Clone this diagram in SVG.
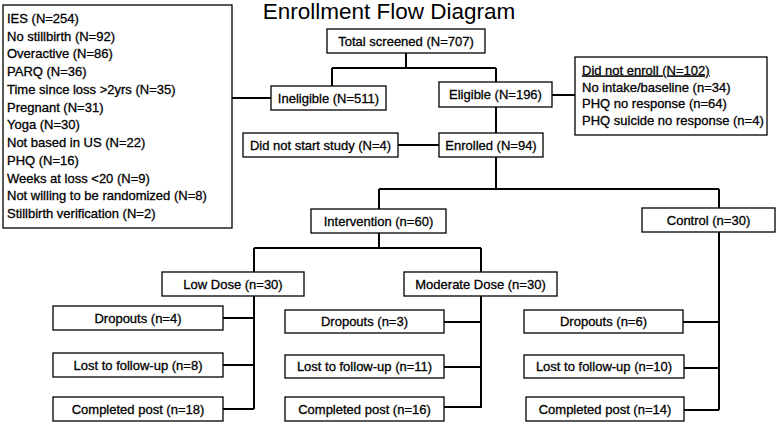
<svg xmlns="http://www.w3.org/2000/svg" width="778" height="422" viewBox="0 0 778 422">
<style>
.b{fill:#fff;stroke:#000;stroke-width:1.3}
.t{font-family:"Liberation Sans",Arial,sans-serif;font-size:13px;fill:#000;stroke:#000;stroke-width:0.3;text-anchor:middle}
.l{font-family:"Liberation Sans",Arial,sans-serif;font-size:13px;fill:#000;stroke:#000;stroke-width:0.3}
.title{font-family:"Liberation Sans",Arial,sans-serif;font-size:22.5px;fill:#000;text-anchor:middle}
#connectors path{fill:none;stroke:#000;stroke-width:2}
</style>
<rect width="778" height="422" fill="#fff"/>
<text class="title" x="389" y="19">Enrollment Flow Diagram</text>
<g id="connectors">
<path d="M406 53V68M332 68H496M332 68V86M496 68V82"/>
<path d="M232 98H271"/>
<path d="M552 95H575"/>
<path d="M496 107V133"/>
<path d="M398 145H439"/>
<path d="M496 157V189M379 189H719M379 189V209M719 189V208"/>
<path d="M379 233V248M254 248H481M254 248V272M481 248V272"/>
<path d="M254 296V409M223 318H254M223 365H254M223 409H254"/>
<path d="M481 296V408M444 322H481M444 367H481M444 407H481"/>
<path d="M719 232V410M683 322H719M684 368H719M684 410H719"/>
</g>
<g id="ineligible-reasons">
<rect class="b" x="3" y="5" width="229" height="223"/>
<text class="l" x="7" y="23">IES (N=254)</text>
<text class="l" x="7" y="40.7">No stillbirth (N=92)</text>
<text class="l" x="7" y="58.4">Overactive (N=86)</text>
<text class="l" x="7" y="76.2">PARQ (N=36)</text>
<text class="l" x="7" y="93.9">Time since loss &gt;2yrs (N=35)</text>
<text class="l" x="7" y="111.6">Pregnant (N=31)</text>
<text class="l" x="7" y="129.4">Yoga (N=30)</text>
<text class="l" x="7" y="147.1">Not based in US (N=22)</text>
<text class="l" x="7" y="164.8">PHQ (N=16)</text>
<text class="l" x="7" y="182.6">Weeks at loss &lt;20 (N=9)</text>
<text class="l" x="7" y="200.3">Not willing to be randomized (N=8)</text>
<text class="l" x="7" y="218">Stillbirth verification (N=2)</text>
</g>
<g id="total-screened">
<rect class="b" x="327" y="29" width="158" height="24"/>
<text class="t" x="406" y="45.5">Total screened (N=707)</text>
</g>
<g id="ineligible">
<rect class="b" x="271" y="86" width="115" height="24"/>
<text class="t" x="328.5" y="102.5">Ineligible (N=511)</text>
</g>
<g id="eligible">
<rect class="b" x="439" y="82" width="113" height="25"/>
<text class="t" x="495.5" y="99">Eligible (N=196)</text>
</g>
<g id="did-not-enroll">
<rect class="b" x="575" y="57" width="192" height="78"/>
<text class="l" x="582" y="74.5" text-decoration="underline">Did not enroll (N=102)</text>
<text class="l" x="582" y="91.5">No intake/baseline (n=34)</text>
<text class="l" x="582" y="108">PHQ no response (n=64)</text>
<text class="l" x="582" y="125">PHQ suicide no response (n=4)</text>
</g>
<g id="did-not-start">
<rect class="b" x="243" y="133" width="155" height="24"/>
<text class="t" x="320.5" y="149.5">Did not start study (N=4)</text>
</g>
<g id="enrolled">
<rect class="b" x="439" y="133" width="104" height="24"/>
<text class="t" x="491" y="149.5">Enrolled (N=94)</text>
</g>
<g id="intervention">
<rect class="b" x="311" y="209" width="135" height="24"/>
<text class="t" x="378.5" y="225.5">Intervention (n=60)</text>
</g>
<g id="control">
<rect class="b" x="642" y="208" width="133" height="24"/>
<text class="t" x="708.5" y="224.5">Control (n=30)</text>
</g>
<g id="low-dose">
<rect class="b" x="162" y="272" width="142" height="24"/>
<text class="t" x="233" y="288.5">Low Dose (n=30)</text>
</g>
<g id="moderate-dose">
<rect class="b" x="404" y="272" width="153" height="24"/>
<text class="t" x="480.5" y="288.5">Moderate Dose (n=30)</text>
</g>
<g id="low-dropouts">
<rect class="b" x="53" y="306" width="170" height="24"/>
<text class="t" x="138" y="322.5">Dropouts (n=4)</text>
</g>
<g id="low-lost">
<rect class="b" x="53" y="353" width="170" height="24"/>
<text class="t" x="138" y="369.5">Lost to follow-up (n=8)</text>
</g>
<g id="low-completed">
<rect class="b" x="53" y="397" width="170" height="24"/>
<text class="t" x="138" y="413.5">Completed post (n=18)</text>
</g>
<g id="mod-dropouts">
<rect class="b" x="285" y="310" width="159" height="23"/>
<text class="t" x="364.5" y="326">Dropouts (n=3)</text>
</g>
<g id="mod-lost">
<rect class="b" x="285" y="355" width="159" height="23"/>
<text class="t" x="364.5" y="371">Lost to follow-up (n=11)</text>
</g>
<g id="mod-completed">
<rect class="b" x="285" y="397" width="159" height="24"/>
<text class="t" x="364.5" y="413.5">Completed post (n=16)</text>
</g>
<g id="ctrl-dropouts">
<rect class="b" x="524" y="310" width="159" height="23"/>
<text class="t" x="603.5" y="326">Dropouts (n=6)</text>
</g>
<g id="ctrl-lost">
<rect class="b" x="524" y="355" width="160" height="23"/>
<text class="t" x="604" y="371">Lost to follow-up (n=10)</text>
</g>
<g id="ctrl-completed">
<rect class="b" x="526" y="397" width="158" height="24"/>
<text class="t" x="605" y="413.5">Completed post (n=14)</text>
</g>
</svg>
